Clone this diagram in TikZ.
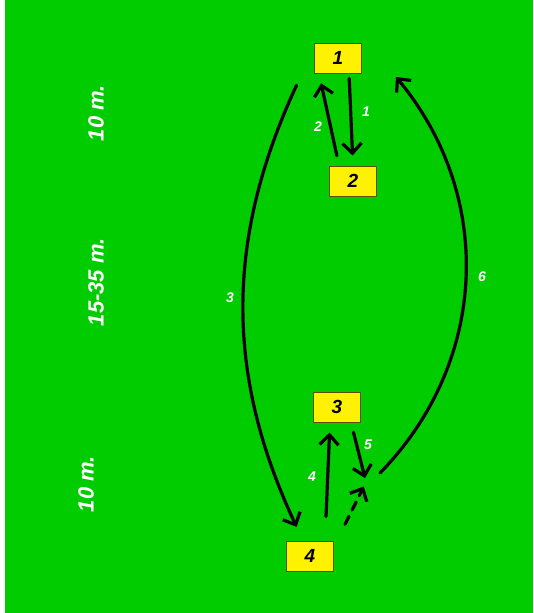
\documentclass[tikz,border=0pt]{standalone}
\usepackage{fontspec}
\setmainfont{Liberation Sans}
\usetikzlibrary{arrows.meta,calc}
\definecolor{field}{RGB}{0,204,0}
\definecolor{boxline}{RGB}{90,80,0}
\begin{document}
\begin{tikzpicture}[x=1pt,y=-1pt,line join=round,line cap=round,
	>={Straight Barb[length=10pt,width=19pt]},
	run/.style={->,line width=3.2pt},
	cone/.style={draw=boxline,fill=yellow,line width=1pt,minimum width=47pt,minimum height=30pt,inner sep=0pt,font=\fontsize{19}{19}\selectfont\bfseries\itshape},
	num/.style={text=white,font=\fontsize{14}{14}\selectfont\bfseries\itshape},
	dist/.style={text=white,rotate=90,font=\fontsize{22}{22}\selectfont\bfseries\itshape}]
	% --- Khung hinh va san co ---
	\useasboundingbox (0,0) rectangle (533,613);
	\fill[field] (5,0) rectangle (533,613);
	
	% --- Cac coc ---
	\node[cone] (b1) at (338,58) {1};
	\node[cone] (b2) at (353,181) {2};
	\node[cone] (b3) at (337,407) {3};
	\node[cone] (b4) at (310,556) {4};
	\coordinate (turn) at (366,482);
	\coordinate (s6) at (380,473);
	\coordinate (e6) at (396,77);
	
	% --- Khoang cach ---
	\node[dist] (d1) at (96,113) {10 m.};
	\node[dist] (d2) at (96,282) {15-35 m.};
	\node[dist] (d3) at (86,484) {10 m.};
	
	% --- Duong chay ---
	\draw[run,shorten <=5pt,shorten >=10pt] ([xshift=11pt]b1.south) -- (b2.north);
	\draw[run,shorten <=10pt,shorten >=10pt] ([xshift=-14pt]b2.north) -- ([xshift=-19pt]b1.south);
	\draw[run,shorten <=13pt,shorten >=15pt] ([xshift=-36pt]b1.south) to[bend right=25] ([xshift=-7pt]b4.north);
	\draw[run,shorten <=24pt,shorten >=10pt] ([xshift=15pt]b4.north) -- ([xshift=-7pt]b3.south);
	\draw[run,shorten <=10pt,shorten >=4pt] ([xshift=14pt]b3.south) -- (turn);
	\draw[run,dashed,dash pattern=on 9pt off 7pt,shorten <=18pt,shorten >=5pt] ([xshift=27pt]b4.north) -- (turn);
	\draw[run] (s6) to[bend right=42] (e6);
	
	% --- Nhan ---
	\node[num] (n1) at (366,112) {1};
	\node[num] (n2) at (318,127) {2};
	\node[num] (n3) at (230,298) {3};
	\node[num] (n4) at (312,477) {4};
	\node[num] (n5) at (368,445) {5};
	\node[num] (n6) at (482,277) {6};
\end{tikzpicture}
\end{document}
